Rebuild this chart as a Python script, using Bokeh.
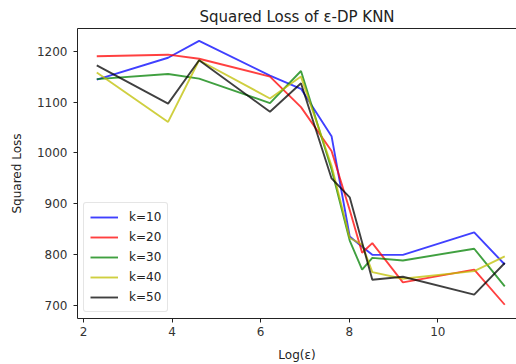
from bokeh.plotting import figure
from bokeh.models import LinearAxis, FixedTicker, Range1d, Legend, LegendItem
from bokeh.embed import file_html
from bokeh.resources import INLINE

# x positions: Log(epsilon)
log_eps = [2.30, 3.91, 4.61, 6.21, 6.91, 7.60, 8.01, 8.29, 8.52, 9.21, 10.82, 11.51]

k10 = [1144, 1187, 1220, 1152, 1126, 1033, 836, 816, 800, 800, 844, 781]
k20 = [1190, 1193, 1185, 1150, 1090, 1004, 888, 804, 823, 746, 771, 702]
k30 = [1145, 1155, 1146, 1098, 1161, 968, 828, 771, 794, 789, 812, 738]
k40 = [1158, 1061, 1182, 1107, 1150, 975, 833, 820, 766, 753, 768, 797]
k50 = [1172, 1097, 1182, 1081, 1137, 950, 913, 824, 751, 757, 722, 784]

series = [k10, k20, k30, k40, k50]
labels = ["k=10", "k=20", "k=30", "k=40", "k=50"]
colors = ["#0000ff", "#ff0000", "#008000", "#bfbf00", "#000000"]

x_ticks = [2, 4, 6, 8, 10]
y_ticks = [700, 800, 900, 1000, 1100, 1200]

FONT = "DejaVu Sans"

p = figure(width=516, height=364, output_backend="svg", toolbar_location=None,
           x_range=Range1d(1.865, 11.775), y_range=Range1d(675.0, 1244.4),
           min_border_left=77, min_border_right=0, min_border_top=28,
           min_border_bottom=45, title="Squared Loss of ε-DP KNN")

p.title.text_font = FONT
p.title.text_font_size = "15px"
p.title.text_font_style = "normal"
p.title.text_color = "#222222"
p.title.align = "center"
p.title.offset = 3
p.title.standoff = 5

p.grid.visible = False
p.outline_line_color = None
p.background_fill_color = "white"
p.border_fill_color = "white"

for ax in (p.xaxis[0], p.yaxis[0]):
    ax.axis_line_color = "#222222"
    ax.axis_line_width = 1
    ax.major_tick_line_color = "#222222"
    ax.major_tick_out = 4
    ax.major_tick_in = 0
    ax.minor_tick_line_color = None
    ax.major_label_text_font = FONT
    ax.major_label_text_font_size = "12px"
    ax.major_label_text_color = "#333333"
    ax.axis_label_text_font = FONT
    ax.axis_label_text_font_size = "12px"
    ax.axis_label_text_font_style = "normal"
    ax.axis_label_text_color = "#222222"

p.xaxis[0].ticker = FixedTicker(ticks=x_ticks)
p.yaxis[0].ticker = FixedTicker(ticks=y_ticks)
p.xaxis[0].axis_label = "Log(ε)"
p.yaxis[0].axis_label = "Squared Loss"
p.xaxis[0].major_label_standoff = 4
p.xaxis[0].axis_label_standoff = 9
p.yaxis[0].major_label_standoff = 6
p.yaxis[0].axis_label_standoff = 10

top = LinearAxis(ticker=FixedTicker(ticks=[]), axis_line_color="#222222",
                 major_tick_line_color=None, minor_tick_line_color=None,
                 major_label_text_font_size="0px", major_label_standoff=0,
                 major_tick_out=0, major_tick_in=0)
p.add_layout(top, "above")

items = []
for vals, lab, col in zip(series, labels, colors):
    r = p.line(log_eps, vals, line_color=col, line_width=1.9, line_alpha=0.75)
    items.append(LegendItem(label=lab, renderers=[r]))

legend = Legend(items=items, location=(6, 6), margin=0, padding=6,
                spacing=4, glyph_width=28, glyph_height=16, label_height=16,
                label_standoff=11, label_text_font=FONT,
                label_text_font_size="12px", label_text_color="#222222",
                border_line_color="#cccccc", border_line_width=1,
                border_radius=3, background_fill_alpha=0.8)
p.add_layout(legend)

open("out.html", "w").write(file_html(p, INLINE))
